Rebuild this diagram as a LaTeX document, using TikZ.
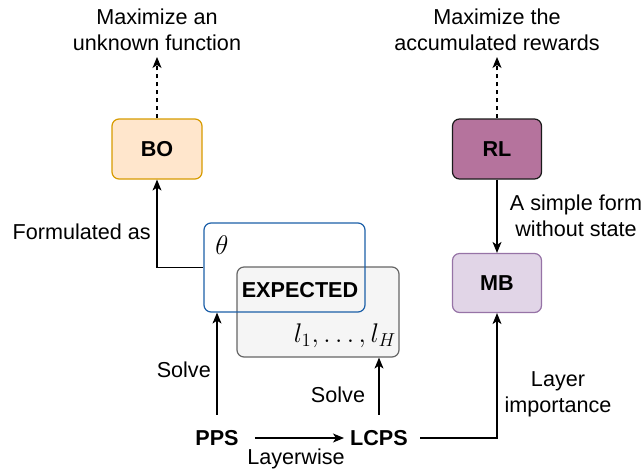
\documentclass[tikz,border=0pt]{standalone}
\usepackage{fontspec}
\setmainfont{Liberation Sans}
\usetikzlibrary{arrows.meta}
\definecolor{bofill}{HTML}{FFE6CC}
\definecolor{bodraw}{HTML}{D79B00}
\definecolor{rlfill}{HTML}{B5739D}
\definecolor{rldraw}{HTML}{1A1A1A}
\definecolor{mbfill}{HTML}{E1D5E7}
\definecolor{mbdraw}{HTML}{9673A6}
\definecolor{thdraw}{HTML}{1C5FA8}
\definecolor{exfill}{HTML}{F5F5F5}
\definecolor{exdraw}{HTML}{666666}
\begin{document}
\begin{tikzpicture}[x=1pt,y=-1pt,
  every node/.style={font=\fontsize{21.6}{26}\selectfont, inner sep=0pt},
  box/.style={rounded corners=7pt, line width=1.2pt, font=\fontsize{21.6}{26}\selectfont\bfseries},
  lbl/.style={align=center},
  conn/.style={line width=1.2pt, -{Stealth[length=11pt,width=9pt,inset=3pt]}},
  dconn/.style={conn, dash pattern=on 4pt off 4pt},
  term/.style={font=\fontsize{21.6}{26}\selectfont\bfseries, minimum height=46pt, inner xsep=6pt}
]
\useasboundingbox (0,0) rectangle (644,472);

% boxes
\node[box, draw=bodraw, fill=bofill, minimum width=90pt, minimum height=60pt] (BO) at (157,149) {BO};
\node[box, draw=rldraw, fill=rlfill, minimum width=89pt, minimum height=60pt] (RL) at (497,149) {RL};
\node[box, draw=mbdraw, fill=mbfill, minimum width=89pt, minimum height=59pt] (MB) at (497,283) {MB};
\node[box, draw=exdraw, fill=exfill, minimum width=162pt, minimum height=90pt] (EX) at (318,312) {};
\node[box, draw=thdraw, minimum width=161pt, minimum height=89pt] (TH) at (284.5,267.5) {};

% texts inside
\node (theta) at (222,245) {\scalebox{1.3}{$\theta$}};
\node[font=\fontsize{21.6}{26}\selectfont\bfseries] (exp) at (300,290) {EXPECTED};
\node[anchor=east] (ls) at (396,336) {\scalebox{1.3}{$l_1,\ldots,l_H$}};

% goal labels
\node[lbl] (g1) at (157,30) {Maximize an\\unknown function};
\node[lbl] (g2) at (497,30) {Maximize the\\accumulated rewards};
\coordinate (t1) at (157,57);
\coordinate (t2) at (497,57);

% bottom terms
\node[term] (PPS) at (217,438) {PPS};
\node[term] (LCPS) at (379,438) {LCPS};

% connectors
\draw[dconn] (BO.north) -- (t1);
\draw[dconn] (RL.north) -- (t2);
\draw[conn] (TH.west) -| (BO.south);
\draw[conn] (PPS.north) -- (PPS.north |- TH.south);
\draw[conn, shorten <=10pt] (PPS.east) -- (LCPS.west);
\draw[conn] (LCPS.north) -- (LCPS.north |- EX.south);
\draw[conn, shorten <=6pt] (LCPS.east) -| (MB.south);
\draw[conn] (RL.south) -- (MB.north);

% edge labels
\node[anchor=east] (lf) at (151,232) {Formulated as};
\node[anchor=east] (ls1) at (211,370) {Solve};
\node (ls2) at (338,395) {Solve};
\node (lw) at (296,459) {Layerwise};
\node[lbl] (lsf) at (576,216) {A simple form\\without state};
\node[lbl] (lli) at (558,394) {Layer\\importance};
\end{tikzpicture}
\end{document}
